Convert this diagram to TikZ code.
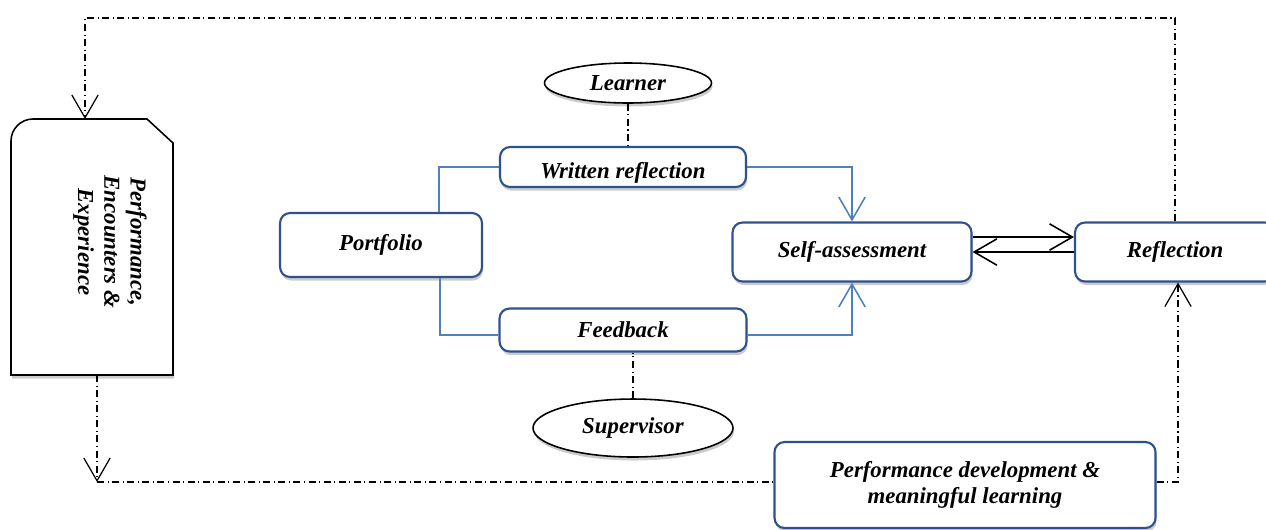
\documentclass[tikz,border=0pt]{standalone}
\usepackage{fontspec}
\setmainfont{Liberation Serif}
\usepackage{tikz}
\usetikzlibrary{arrows.meta, positioning, shadows, shapes.geometric}

\definecolor{boxblue}{RGB}{47,82,143}
\definecolor{linkblue}{RGB}{79,129,189}

\begin{document}
\begin{tikzpicture}[x=0.02cm, y=-0.02cm,
    >={Straight Barb[length=13pt,width=15pt]},
    txt/.style={font=\fontsize{13}{15}\selectfont\bfseries\itshape},
    box/.style={txt, draw=boxblue, line width=1.2pt, rectangle, rounded corners=0.2cm, fill=white, text centered, drop shadow={shadow xshift=0.6pt, shadow yshift=-2pt, fill=black!40}},
    oval/.style={txt, draw, ellipse, line width=0.9pt, fill=white, inner sep=0pt, drop shadow={shadow xshift=0.6pt, shadow yshift=-2pt, fill=black!40}},
    link/.style={draw=linkblue, line width=0.9pt},
    back/.style={draw, line width=0.7pt, dash pattern=on 4pt off 2pt on 0.6pt off 2pt},
    fwd/.style={draw, line width=0.9pt}]
    \useasboundingbox (0,0) rectangle (1266,529);

    % left card
    \draw[line width=0.9pt, fill=white, drop shadow={shadow xshift=0.6pt, shadow yshift=-2pt, fill=black!40}]
        (11,375) -- (11,141) arc[start angle=180, end angle=90, radius=0.44cm] -- (147,119) -- (173,143) -- (173,375) -- cycle;
    \node (doc) [txt, rotate=-90, align=center] at (110,242) {Performance,\\Encounters \&\\Experience};
    \coordinate (doctop) at (85,119);
    \coordinate (docbot) at (97,375);
    \coordinate (topleft) at (85,18);
    \coordinate (botleft) at (97,482);

    \node (port) [box, minimum width=4.04cm, minimum height=1.28cm] at (381,245) {Portfolio};
    \node (wr) [box, minimum width=4.92cm, minimum height=0.8cm, text depth=0pt] at (623,167) {\raisebox{-4pt}{Written reflection}};
    \node (fb) [box, minimum width=4.94cm, minimum height=0.86cm] at (623,330) {\raisebox{-4pt}{Feedback}};
    \node (sa) [box, minimum width=4.78cm, minimum height=1.18cm] at (852,252) {Self-assessment};
    \node (refl) [box, minimum width=4cm, minimum height=1.18cm] at (1175,252) {Reflection};
    \node (perf) [box, align=center, minimum width=7.62cm, minimum height=1.72cm] at (965,485) {Performance development \&\\meaningful learning};
    \node (learner) [oval, minimum width=3.34cm, minimum height=0.8cm] at (628,83) {\raisebox{-4pt}{Learner}};
    \node (sup) [oval, minimum width=4cm, minimum height=1.16cm] at (633,428) {Supervisor};

    % blue links
    \draw[link] ([xshift=-0.88cm]port.north east) |- (wr.west);
    \draw[link] ([xshift=-0.86cm]port.south east) |- ([yshift=-0.1cm]fb.west);
    \draw[link,->] (wr.east) -| (sa.north);
    \draw[link,->] ([yshift=-0.1cm]fb.east) -| (sa.south);

    % two way
    \draw[fwd,->] ([yshift=0.3cm]sa.east) -- ([yshift=0.3cm]refl.west);
    \draw[fwd,->] (refl.west) -- (sa.east);

    % dash-dot loops
    \draw[back] (learner.south) -- (learner.south |- wr.north);
    \draw[back] (sup.north) -- (sup.north |- fb.south);
    \draw[back,->] (refl.north) |- (topleft) -- (doctop);
    \draw[back,->] (docbot) -- (botleft);
    \draw[back] (botleft) -- (perf.west |- botleft);
    \draw[back,->] (perf.east |- botleft) -| ([xshift=0.06cm]refl.south);
\end{tikzpicture}
\end{document}
